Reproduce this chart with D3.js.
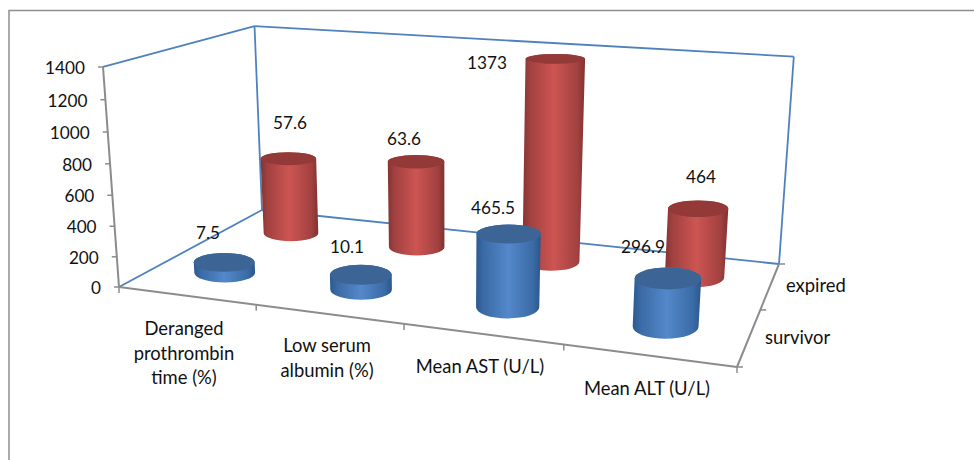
<!DOCTYPE html>
<html>
<head>
<meta charset="utf-8">
<script src="https://cdn.jsdelivr.net/npm/d3@7"></script>
<style>
body { margin: 0; background: #fff; }
text { font-family: Lato, "Open Sans", sans-serif; font-size: 18.4px; fill: #111; }
text.num { font-size: 17.2px; }
</style>
</head>
<body>
<script>
// data
const categories = [["Deranged", "prothrombin", "time (%)"], ["Low serum", "albumin (%)"], ["Mean AST (U/L)"], ["Mean ALT (U/L)"]];
const seriesNames = ["survivor", "expired"];
// bar heights, the printed labels don't always agree with them
const survivorHeights = [72, 97, 465.5, 296.9];
const expiredHeights = [550, 610, 1373, 464];
const survivorLabels = ["7.5", "10.1", "465.5", "296.9"];
const expiredLabels = ["57.6", "63.6", "1373", "464"];
const valueTicks = [0, 200, 400, 600, 800, 1000, 1200, 1400];

// where things land on the page
const svgWidth = 974, svgHeight = 460;
const floorFrontLeft = [119, 287], floorFrontRight = [737, 367], floorBackRight = [779, 264], floorBackLeft = [262, 210];
const vanish = [451, 4856];   // uprights converge here
const heightFactor = -0.04594;
const radiusU = 0.049, radiusV = 0.11;

const xScale = d3.scaleBand().domain(d3.range(categories.length)).range([0, 1]);
const zScale = d3.scalePoint().domain(seriesNames).range([0, 1]).padding(0.5);
const yScale = d3.scaleLinear().domain([0, 1400]).range([0, 1]);

// unit square -> floor quad
function floorMatrix() {
    const [x0, y0] = floorFrontLeft, [x1, y1] = floorFrontRight, [x2, y2] = floorBackRight, [x3, y3] = floorBackLeft;
    const dx1 = x1 - x2, dx2 = x3 - x2, sx = x0 - x1 + x2 - x3;
    const dy1 = y1 - y2, dy2 = y3 - y2, sy = y0 - y1 + y2 - y3;
    const den = dx1 * dy2 - dx2 * dy1;
    const g = (sx * dy2 - dx2 * sy) / den, h = (dx1 * sy - sx * dy1) / den;
    return { a: x1 - x0 + g * x1, b: x3 - x0 + h * x3, c: x0, d: y1 - y0 + g * y1, e: y3 - y0 + h * y3, f: y0, g, h };
}
const m = floorMatrix();

// u along categories, v into the chart, w up
function project(u, v, w) {
    const t = heightFactor * w;
    const q = m.g * u + m.h * v + 1 + t;
    return [(m.a * u + m.b * v + m.c + t * vanish[0]) / q, (m.d * u + m.e * v + m.f + t * vanish[1]) / q];
}

const svg = d3.select("body").append("svg")
    .attr("width", svgWidth)
    .attr("height", svgHeight)
    .style("display", "block");

// gradients for the round sides
const defs = svg.append("defs");
function addGradient(id, stops) {
    const g = defs.append("linearGradient").attr("id", id);
    stops.forEach(s => g.append("stop").attr("offset", s[0]).attr("stop-color", s[1]));
}
addGradient("redSide", [[0, "#843432"], [0.12, "#a14140"], [0.5, "#cd5552"], [0.88, "#a14140"], [1, "#7f3230"]]);
addGradient("blueSide", [[0, "#2c5a90"], [0.12, "#3b6ba6"], [0.5, "#5388ca"], [0.88, "#3b6ba6"], [1, "#2a568a"]]);

// outer frame
svg.append("path")
    .attr("d", `M9,${svgHeight}V10.5H${svgWidth}`)
    .attr("fill", "none").attr("stroke", "#8f8f8f").attr("stroke-width", 1.5);

function segment(a, b, color, width) {
    svg.append("line")
        .attr("x1", a[0]).attr("y1", a[1]).attr("x2", b[0]).attr("y2", b[1])
        .attr("stroke", color).attr("stroke-width", width);
}

// walls
const wallColor = "#4f81bd";
segment(project(0, 0, 0), project(0, 1, 0), wallColor, 1.8);
segment(project(0, 1, 0), project(1, 1, 0), wallColor, 1.8);
segment(project(0, 1, 0), project(0, 1, 1), wallColor, 1.8);
segment(project(0, 0, 1), project(0, 1, 1), wallColor, 1.8);
segment(project(0, 1, 1), project(1, 1, 1), wallColor, 1.8);
segment(project(1, 1, 1), project(1, 1, 0), wallColor, 1.8);

// axes
const axisColor = "#8c8c8c";
segment(project(0, 0, 0), project(0, 0, 1), axisColor, 2);
segment(project(0, 0, 0), project(1, 0, 0), axisColor, 2);
segment(project(1, 0, 0), project(1, 1, 0), axisColor, 2);

valueTicks.forEach(d => {
    const p = project(0, 0, yScale(d));
    segment(p, [p[0] - 5, p[1]], axisColor, 1.5);
    svg.append("text")
        .attr("class", "num")
        .attr("x", p[0] - 18)
        .attr("y", p[1] + 7)
        .attr("text-anchor", "end")
        .text(d);
});
d3.range(categories.length + 1).forEach(i => {
    const p = project(i / categories.length, 0, 0);
    segment(p, [p[0], p[1] + 6], axisColor, 1.5);
});
[0, 0.5, 1].forEach(v => {
    const p = project(1, v, 0);
    segment(p, [p[0] + 6, p[1]], axisColor, 1.5);
});

// category labels hang below the front axis
const categoryLabelPos = [[184, 335], [327, 352], [480, 373], [647, 395]];
categories.forEach((lines, i) => {
    svg.append("text")
        .attr("text-anchor", "middle")
        .selectAll("tspan")
        .data(lines)
        .enter()
        .append("tspan")
        .attr("x", categoryLabelPos[i][0])
        .attr("y", (d, j) => categoryLabelPos[i][1] + j * 24.5)
        .text(d => d);
});
const seriesLabelPos = [[765, 344], [786, 292]];
seriesNames.forEach((name, i) => {
    svg.append("text").attr("x", seriesLabelPos[i][0]).attr("y", seriesLabelPos[i][1]).text(name);
});

function drawCylinder(i, value, seriesName, fillId, topColor) {
    const u = xScale(i) + xScale.bandwidth() / 2;
    const v = zScale(seriesName);
    const w = yScale(value);
    // screen ellipse that spans the projected circle, kept level
    const ell = wv => {
        const c = project(u, v, wv);
        const ux = (project(u + radiusU, v, wv)[0] - project(u - radiusU, v, wv)[0]) / 2;
        const vx = (project(u, v + radiusV, wv)[0] - project(u, v - radiusV, wv)[0]) / 2;
        const ry = Math.abs(project(u, v + radiusV, wv)[1] - project(u, v - radiusV, wv)[1]) / 2;
        return { c, rx: Math.hypot(ux, vx), ry };
    };
    const base = ell(0), top = ell(w);
    const g = svg.append("g");
    g.append("path")
        .attr("d", `M${top.c[0] - top.rx},${top.c[1]}L${base.c[0] - base.rx},${base.c[1]}` +
            `A${base.rx},${base.ry} 0 0 0 ${base.c[0] + base.rx},${base.c[1]}` +
            `L${top.c[0] + top.rx},${top.c[1]}` +
            `A${top.rx},${top.ry} 0 0 0 ${top.c[0] - top.rx},${top.c[1]}Z`)
        .attr("fill", `url(#${fillId})`);
    g.append("ellipse")
        .attr("cx", top.c[0]).attr("cy", top.c[1])
        .attr("rx", top.rx).attr("ry", top.ry)
        .attr("fill", topColor);
}

// back row first so the front row covers it
expiredHeights.forEach((d, i) => drawCylinder(i, d, "expired", "redSide", "#933a38"));
survivorHeights.forEach((d, i) => drawCylinder(i, d, "survivor", "blueSide", "#3c6494"));

// data labels, placed by hand in the original
const survivorLabelPos = [[208, 239], [347, 253], [493, 214], [643, 253]];
const expiredLabelPos = [[290, 129], [404, 145], [487, 69], [701, 183]];
survivorLabels.forEach((d, i) => {
    svg.append("text").attr("class", "num").attr("x", survivorLabelPos[i][0]).attr("y", survivorLabelPos[i][1]).attr("text-anchor", "middle").text(d);
});
expiredLabels.forEach((d, i) => {
    svg.append("text").attr("class", "num").attr("x", expiredLabelPos[i][0]).attr("y", expiredLabelPos[i][1]).attr("text-anchor", "middle").text(d);
});
</script>
</body>
</html>
